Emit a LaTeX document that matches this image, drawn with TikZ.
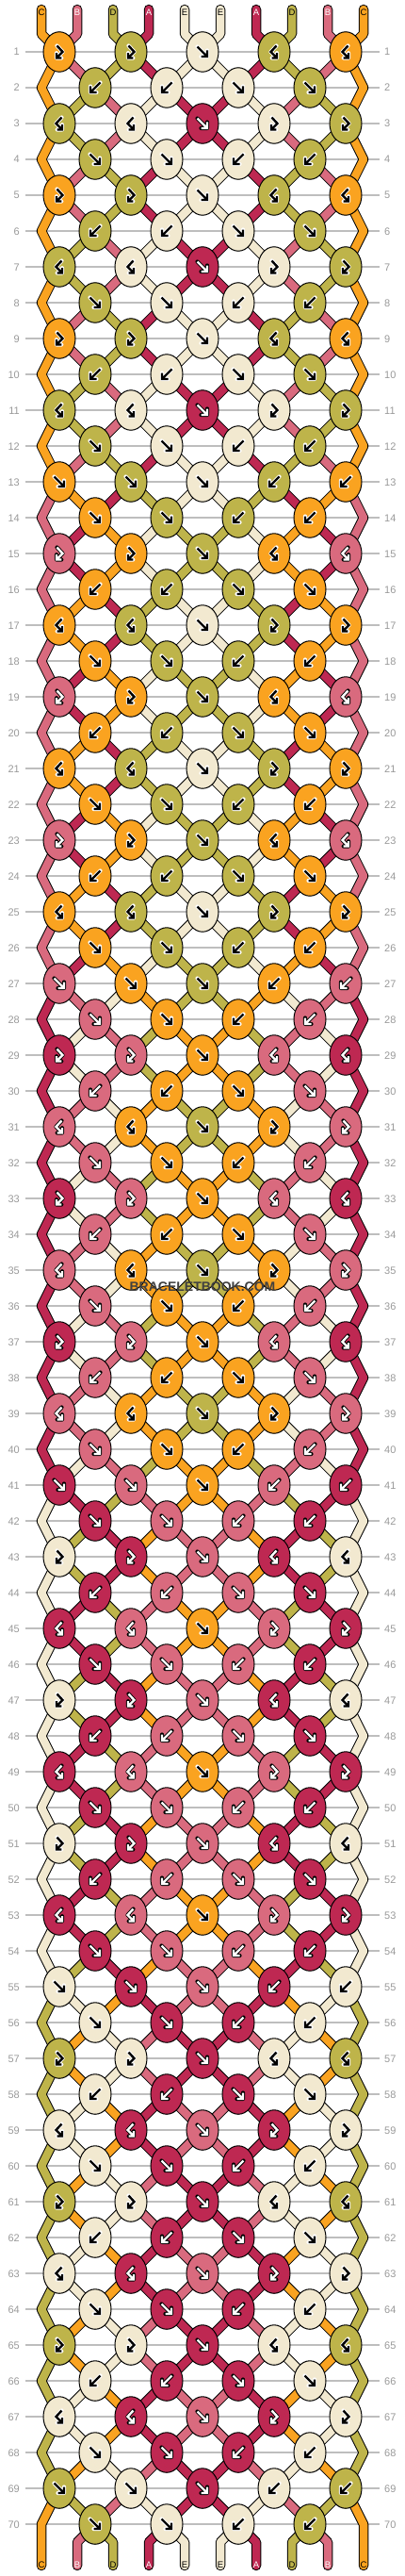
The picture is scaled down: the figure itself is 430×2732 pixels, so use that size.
\documentclass[tikz,border=0pt]{standalone}
\usepackage{fontspec}
\setmainfont{Liberation Sans}
\usetikzlibrary{shapes.geometric}
\definecolor{cO}{RGB}{250,163,32}
\definecolor{cP}{RGB}{217,106,126}
\definecolor{cG}{RGB}{190,180,74}
\definecolor{cR}{RGB}{190,40,82}
\definecolor{cE}{RGB}{242,233,208}
\definecolor{rowgray}{RGB}{153,153,153}
\definecolor{linegray}{RGB}{190,190,190}
\definecolor{wmgray}{RGB}{64,64,64}
\tikzset{
  knot/.style={ellipse, draw=black, line width=1pt, minimum width=34pt, minimum height=42.5pt, inner sep=0pt},
  seg/.style={draw=black, line width=1pt, double=#1, double distance=8.5pt, line cap=round, line join=round},
  rowlbl/.style={text=rowgray, font=\fontsize{11}{11}\selectfont, inner sep=0pt, text height=8pt, text depth=0pt},
  endlbl/.style={font=\fontsize{9.5}{9.5}\selectfont, inner sep=0pt, text height=7pt, text depth=0pt},
  gridline/.style={draw=linegray, line width=1.2pt},
}
\newcommand\gd[1]{%
  \draw[line width=4.2pt,draw=\go,line cap=round,line join=round] #1;
  \draw[line width=2.4pt,draw=\gc,line cap=butt,line join=miter] #1;}
\newcommand\glyph[3]{%
  \def\gc{black}\def\go{white}%
  \if#3R\def\gc{white}\def\go{black}\fi
  \if#3P\def\gc{white}\def\go{black}\fi
  \begin{scope}[shift={(#2.center)}]
  \ifcase#1\relax
    \gd{(-5.5,-5.5) -- (5,5) (5,-1.5) -- (5,5) -- (-1.5,5)}%
  \or
    \gd{(5.5,-5.5) -- (-5,5) (-5,-1.5) -- (-5,5) -- (1.5,5)}%
  \or
    \gd{(-2.5,-6.5) -- (3.5,0) -- (-3,6.5) (-3,1.2) -- (-3,6.5) -- (2.3,6.5)}%
  \or
    \gd{(2.5,-6.5) -- (-3.5,0) -- (3,6.5) (3,1.2) -- (3,6.5) -- (-2.3,6.5)}%
  \fi
  \end{scope}}
\newcommand\setrowtypes[1]{%
  \pgfmathtruncatemacro\mm{mod(#1-1,14)}%
  \ifnum\mm=12 \gdef\tlist{0,0,0,1,1}\else
  \ifnum\mm=13 \gdef\tlist{0,0,1,1}\else
  \pgfmathtruncatemacro\cc{mod(\mm,4)}%
  \ifcase\cc \gdef\tlist{2,2,0,3,3}\or \gdef\tlist{1,1,0,0}\or \gdef\tlist{3,3,0,2,2}\or \gdef\tlist{0,0,1,1}\fi
  \fi\fi}
\gdef\segcmds{}
\gdef\knotcmds{}
\newcommand\doknot[4]{% row, p, type, y
  \edef\Lc{\csname S#2\endcsname}%
  \edef\qq{\the\numexpr#2+1\relax}%
  \edef\Rc{\csname S\qq\endcsname}%
  \ifodd#3\relax \edef\Kc{\Rc}\else \edef\Kc{\Lc}\fi
  \coordinate (c-#1-#2) at ({63+38*#2},#4);
  \xdef\segcmds{\unexpanded\expandafter{\segcmds}%
    \noexpand\draw[seg=c\Lc] \csname Q#2\endcsname -- (c-#1-#2);%
    \noexpand\draw[seg=c\Rc] \csname Q\qq\endcsname -- (c-#1-#2);}%
  \xdef\knotcmds{\unexpanded\expandafter{\knotcmds}%
    \noexpand\node[knot, fill=c\Kc] (k-#1-#2) at (c-#1-#2) {};%
    \noexpand\glyph{#3}{k-#1-#2}{\Kc}}%
  \ifnum#3<2
    \expandafter\xdef\csname S#2\endcsname{\Rc}%
    \expandafter\xdef\csname S\qq\endcsname{\Lc}%
  \fi
  \expandafter\xdef\csname Q#2\endcsname{(c-#1-#2)}%
  \expandafter\xdef\csname Q\qq\endcsname{(c-#1-#2)}%
}
\begin{document}
\begin{tikzpicture}[x=1pt,y=-1pt]
\useasboundingbox (0,0) rectangle (430,2732);
% row guide lines and numbers
\foreach \r in {1,...,70}{
  \pgfmathtruncatemacro\y{17+38*\r}
  \draw[gridline] (27,\y) -- (403,\y);
  \node[rowlbl, anchor=east] (rl-\r) at (21,\y) {\r};
  \node[rowlbl, anchor=west] (rr-\r) at (408,\y) {\r};
}
% initial strings
\foreach \p/\c in {0/O,1/P,2/G,3/R,4/E,5/E,6/R,7/G,8/P,9/O}{%
  \expandafter\xdef\csname S\p\endcsname{\c}%
  \coordinate (t-\p) at ({44+38*\p},10);
  \coordinate (tb-\p) at ({44+38*\p},36);
  \expandafter\xdef\csname Q\p\endcsname{(t-\p) -- (tb-\p)}%
}
% simulate the knotting
\foreach \r in {1,...,70}{
  \setrowtypes{\r}%
  \pgfmathtruncatemacro\y{17+38*\r}%
  \ifodd\r\relax \def\pstart{0}\else \def\pstart{1}\fi
  \foreach \t [count=\i from 0] in \tlist {%
    \pgfmathtruncatemacro\p{\pstart+2*\i}%
    \doknot{\r}{\p}{\t}{\y}%
  }%
  \ifodd\r\relax\else
    \coordinate (aL-\r) at (44,\y);
    \coordinate (aR-\r) at (386,\y);
    \expandafter\xdef\csname Q0\endcsname{\csname Q0\endcsname -- (aL-\r)}%
    \expandafter\xdef\csname Q9\endcsname{\csname Q9\endcsname -- (aR-\r)}%
  \fi
}
% strings
\segcmds
\foreach \p in {0,...,9}{%
  \coordinate (bb-\p) at ({44+38*\p},2696);
  \coordinate (b-\p) at ({44+38*\p},2721);
  \edef\tmp{\noexpand\draw[seg=c\csname S\p\endcsname] \csname Q\p\endcsname -- (bb-\p) -- (b-\p);}\tmp
}
% knots
\knotcmds
% string end labels
\foreach \p/\l/\tc in {0/C/black,1/B/white,2/D/black,3/A/white,4/E/black,5/E/black,6/A/white,7/D/black,8/B/white,9/C/black}{
  \node[endlbl, text=\tc] (lt-\p) at ({44+38*\p},13) {\l};
  \node[endlbl, text=\tc] (lb-\p) at ({44+38*\p},2720) {\l};
}
\node[font=\bfseries\fontsize{14}{14}\selectfont, text=wmgray, inner sep=0pt] (wm) at (215,1365) {BRACELETBOOK.COM};
\end{tikzpicture}
\end{document}
